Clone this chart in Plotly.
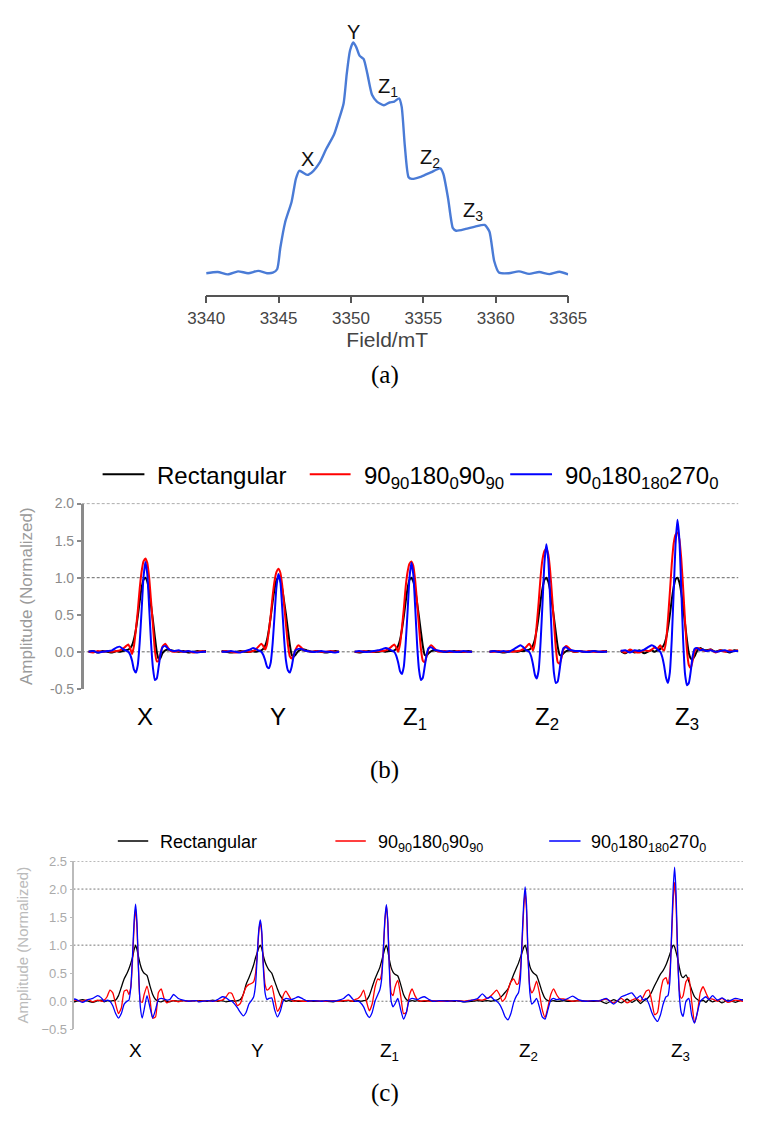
import plotly.graph_objects as go

W, H = 762, 1127
SANS = "Liberation Sans, Arial, sans-serif"
SERIF = "Liberation Serif, DejaVu Serif, serif"

# ---------------- Panel (a): field-swept spectrum ----------------
FIELD_A = [3340.0, 3340.8, 3341.5, 3342.2, 3342.9, 3343.6, 3344.2, 3344.6, 3344.9,
           3345.12, 3345.45, 3345.9, 3346.2, 3346.43, 3346.98, 3347.41, 3347.85,
           3348.28, 3348.83, 3349.16, 3349.49, 3349.71, 3349.93, 3350.15, 3350.37,
           3350.59, 3350.87, 3351.13, 3351.46, 3351.79, 3352.27, 3352.66, 3352.99,
           3353.32, 3353.5, 3353.72, 3353.98, 3354.2, 3354.86, 3355.51, 3356.17,
           3356.38, 3356.71, 3357.04, 3357.26, 3357.92, 3358.57, 3359.23, 3359.56,
           3359.89, 3360.22, 3360.9, 3361.6, 3362.3, 3363.0, 3363.7, 3364.4, 3365.0]
SIGNAL_A = [0.0, 0.005, -0.005, 0.008, 0.0, 0.01, 0.0, 0.002, 0.017,
            0.11, 0.22, 0.31, 0.41, 0.444, 0.426, 0.444, 0.48,
            0.537, 0.601, 0.665, 0.736, 0.865, 0.964, 1.0, 0.979,
            0.943, 0.929, 0.865, 0.772, 0.744, 0.728, 0.74, 0.744,
            0.758, 0.722, 0.551, 0.416, 0.409, 0.419, 0.437, 0.454,
            0.43, 0.323, 0.195, 0.184, 0.192, 0.202, 0.209, 0.181,
            0.053, 0.003, 0.0, 0.008, -0.003, 0.005, -0.004, 0.006, -0.005]
TICKS_A = [3340, 3345, 3350, 3355, 3360, 3365]

SEGMENTS = ["X", "Y", "Z<sub>1</sub>", "Z<sub>2</sub>", "Z<sub>3</sub>"]
SERIES = ["Rectangular",
          "90<sub>90</sub>180<sub>0</sub>90<sub>90</sub>",
          "90<sub>0</sub>180<sub>180</sub>270<sub>0</sub>"]

# ---------------- Panel (b): echoes, time offset from echo top ----------------
T_B = [-60, -55, -50, -45, -40, -35, -30,
       -27, -24, -21, -18, -16, -14, -12, -10, -8, -6, -4, -2,
       0,
       2, 4, 6, 8, 10, 12, 14, 16, 18, 21, 24, 27,
       30, 35, 40, 45, 50, 55, 60, 64]

B_X_RECT = [0.00, 0.01, -0.01, 0.01, 0.00, -0.01, 0.01,
            0.00, 0.01, 0.02, 0.03, 0.05, 0.09, 0.17, 0.30, 0.48, 0.68, 0.86, 0.97,
            1.00,
            0.95, 0.82, 0.62, 0.42, 0.20, 0.00, -0.10, -0.08, -0.02, 0.02, 0.03, 0.02,
            0.01, 0.00, 0.01, -0.01, 0.00, 0.01, 0.00, 0.01]
B_X_P1 = [0.00, -0.01, 0.01, 0.00, 0.01, 0.00, 0.01,
          0.02, 0.04, 0.07, 0.10, 0.05, -0.03, 0.08, 0.30, 0.55, 0.85, 1.08, 1.22,
          1.26,
          1.20, 1.00, 0.68, 0.35, 0.02, -0.13, -0.12, -0.02, 0.07, 0.11, 0.05, 0.01,
          0.00, 0.01, 0.00, 0.01, -0.01, 0.00, 0.01, 0.00]
B_X_P2 = [0.00, 0.01, -0.01, 0.00, 0.01, 0.02, 0.06,
          0.07, 0.04, 0.02, 0.00, -0.04, -0.12, -0.24, -0.28, -0.18, 0.12, 0.55, 1.00,
          1.21,
          1.05, 0.60, 0.12, -0.22, -0.38, -0.36, -0.20, -0.03, 0.06, 0.08, 0.04, 0.02,
          0.01, 0.02, 0.00, 0.01, 0.00, -0.01, 0.00, 0.00]

B_Y_RECT = [0.01, 0.00, -0.01, 0.00, 0.01, 0.00, 0.00,
            0.01, 0.00, 0.01, 0.02, 0.04, 0.08, 0.16, 0.30, 0.48, 0.68, 0.85, 0.97,
            1.00,
            0.96, 0.85, 0.68, 0.50, 0.30, 0.10, -0.04, -0.07, -0.04, 0.01, 0.03, 0.03,
            0.02, 0.00, 0.01, 0.00, -0.01, 0.00, 0.01, 0.00]
B_Y_P1 = [0.00, 0.01, 0.00, -0.01, 0.00, 0.01, 0.00,
          0.01, 0.03, 0.07, 0.11, 0.08, 0.03, 0.10, 0.28, 0.50, 0.76, 0.96, 1.08,
          1.12,
          1.07, 0.90, 0.64, 0.36, 0.10, -0.06, -0.09, -0.05, 0.03, 0.09, 0.06, 0.02,
          0.01, 0.00, 0.01, 0.00, 0.00, 0.01, 0.00, 0.00]
B_Y_P2 = [0.00, 0.00, 0.01, 0.00, -0.01, 0.01, 0.03,
          0.05, 0.04, 0.02, 0.00, -0.04, -0.11, -0.20, -0.22, -0.14, 0.12, 0.50, 0.88,
          1.05,
          0.95, 0.60, 0.18, -0.12, -0.25, -0.28, -0.20, -0.06, 0.02, 0.04, 0.04, 0.02,
          0.01, 0.00, 0.00, 0.01, 0.00, 0.00, -0.01, 0.00]

B_Z1_RECT = [0.00, -0.01, 0.00, 0.01, 0.00, 0.00, 0.01,
             0.00, 0.01, 0.01, 0.02, 0.04, 0.08, 0.16, 0.30, 0.48, 0.68, 0.86, 0.97,
             1.00,
             0.95, 0.84, 0.66, 0.47, 0.27, 0.08, -0.04, -0.05, -0.02, 0.01, 0.02, 0.01,
             0.01, 0.00, 0.00, 0.01, 0.00, 0.00, 0.01, 0.00]
B_Z1_P1 = [0.00, 0.00, 0.01, 0.00, 0.00, 0.01, 0.01,
           0.02, 0.04, 0.07, 0.10, 0.06, 0.00, 0.10, 0.32, 0.58, 0.88, 1.08, 1.19,
           1.22,
           1.16, 0.96, 0.66, 0.34, 0.04, -0.12, -0.14, -0.06, 0.04, 0.09, 0.05, 0.01,
           0.00, 0.01, 0.00, 0.00, 0.01, 0.00, 0.00, 0.00]
B_Z1_P2 = [0.00, 0.01, 0.00, 0.00, 0.01, 0.02, 0.04,
           0.05, 0.04, 0.02, 0.00, -0.05, -0.14, -0.26, -0.30, -0.20, 0.12, 0.55, 1.00,
           1.20,
           1.04, 0.60, 0.10, -0.24, -0.38, -0.35, -0.20, -0.04, 0.05, 0.06, 0.03, 0.02,
           0.01, 0.00, 0.01, 0.00, 0.00, 0.01, 0.00, 0.00]

B_Z2_RECT = [0.00, 0.01, 0.00, -0.01, 0.00, 0.01, 0.00,
             0.01, 0.01, 0.02, 0.03, 0.05, 0.09, 0.17, 0.31, 0.49, 0.69, 0.86, 0.97,
             1.00,
             0.95, 0.83, 0.65, 0.46, 0.26, 0.07, -0.04, -0.05, -0.02, 0.01, 0.02, 0.01,
             0.00, 0.01, 0.00, 0.00, 0.01, 0.00, 0.00, 0.01]
B_Z2_P1 = [0.00, 0.00, 0.01, 0.00, 0.01, 0.00, 0.01,
           0.02, 0.04, 0.07, 0.11, 0.07, 0.02, 0.12, 0.38, 0.68, 1.02, 1.25, 1.36,
           1.39,
           1.32, 1.10, 0.76, 0.40, 0.05, -0.14, -0.16, -0.08, 0.03, 0.08, 0.05, 0.01,
           0.00, 0.01, 0.00, 0.01, 0.00, 0.00, 0.01, 0.00]
B_Z2_P2 = [0.00, 0.01, 0.00, 0.01, 0.00, 0.03, 0.07,
           0.09, 0.06, 0.02, 0.00, -0.06, -0.17, -0.31, -0.36, -0.24, 0.14, 0.66, 1.20,
           1.45,
           1.25, 0.72, 0.12, -0.28, -0.42, -0.40, -0.24, -0.05, 0.05, 0.06, 0.03, 0.02,
           0.01, 0.01, 0.00, 0.00, 0.01, 0.00, 0.00, 0.00]

B_Z3_RECT = [0.01, -0.02, 0.02, -0.01, 0.02, -0.02, 0.01,
             0.02, 0.00, 0.02, 0.04, 0.06, 0.10, 0.18, 0.32, 0.50, 0.70, 0.87, 0.98,
             1.00,
             0.94, 0.80, 0.60, 0.38, 0.16, -0.02, -0.09, -0.10, -0.06, 0.02, 0.05, 0.03,
             0.02, 0.03, 0.00, 0.02, 0.01, -0.01, 0.02, 0.01]
B_Z3_P1 = [0.02, -0.01, 0.03, 0.00, -0.01, 0.02, 0.01,
           0.03, 0.06, 0.04, 0.09, 0.04, 0.02, 0.14, 0.44, 0.80, 1.18, 1.46, 1.58,
           1.61,
           1.52, 1.26, 0.86, 0.42, 0.02, -0.18, -0.22, -0.12, 0.00, 0.05, 0.04, 0.02,
           0.01, 0.03, -0.01, 0.02, 0.00, 0.02, 0.01, 0.02]
B_Z3_P2 = [0.01, 0.02, -0.01, 0.02, 0.01, 0.03, 0.07,
           0.09, 0.07, 0.03, 0.00, -0.07, -0.19, -0.35, -0.42, -0.28, 0.16, 0.80, 1.45,
           1.78,
           1.52, 0.86, 0.16, -0.30, -0.45, -0.42, -0.26, -0.06, 0.04, 0.05, 0.02, 0.03,
           0.01, 0.02, 0.00, 0.01, 0.02, 0.00, 0.01, 0.01]

TICKVALS_B = [-0.5, 0.0, 0.5, 1.0, 1.5, 2.0]
TICKTEXT_B = ["-0.5", "0.0", "0.5", "1.0", "1.5", "2.0"]
GRID_B = [0.0, 1.0, 2.0]

# ---------------- Panel (c): echoes, time offset from echo top ----------------
T_C = [-80, -72, -64, -56, -50, -45, -40, -36, -33, -30,
       -27, -24, -21, -18, -15, -12, -9, -7, -5, -3,
       -1.5, 0, 1.5, 3, 5, 7, 9, 12, 15, 18,
       21, 24, 27, 30, 33, 36, 40, 45, 50, 56,
       64, 72, 80]

C_X_RECT = [0.00, 0.02, -0.01, 0.03, 0.00, -0.02, 0.01, 0.02, -0.01, 0.01,
            0.00, 0.01, 0.02, 0.10, 0.25, 0.40, 0.50, 0.58, 0.68, 0.80,
            0.92, 1.00, 0.92, 0.80, 0.65, 0.55, 0.50, 0.46, 0.28, 0.12,
            0.03, 0.00, -0.01, 0.01, 0.00, -0.01, 0.01, 0.00, 0.01, 0.00,
            0.01, 0.00, 0.00]
C_X_P1 = [0.01, -0.01, 0.02, 0.00, 0.03, -0.01, 0.02, 0.00, 0.02, 0.08,
          0.20, 0.15, -0.05, -0.22, -0.12, 0.18, 0.20, 0.12, 0.25, 0.80,
          1.35, 1.66, 1.30, 0.60, 0.00, -0.02, 0.12, 0.27, 0.05, -0.30,
          -0.28, 0.15, 0.22, 0.05, -0.03, 0.00, 0.01, -0.01, 0.01, 0.00,
          0.01, 0.00, 0.00]
C_X_P2 = [0.02, -0.03, 0.04, -0.02, 0.03, 0.05, 0.10, 0.06, 0.00, 0.02,
          0.00, -0.08, -0.22, -0.30, -0.22, -0.05, 0.00, 0.02, 0.25, 0.90,
          1.45, 1.73, 1.40, 0.60, -0.10, -0.30, -0.15, 0.10, -0.10, -0.30,
          -0.15, 0.03, 0.05, 0.04, 0.02, 0.03, 0.12, 0.05, 0.02, 0.00,
          0.01, -0.01, 0.00]

C_Y_RECT = [0.00, -0.01, 0.01, 0.00, 0.02, 0.00, 0.01, -0.01, 0.00, 0.01,
            0.00, 0.01, 0.03, 0.12, 0.30, 0.42, 0.55, 0.65, 0.78, 0.88,
            0.96, 1.00, 0.94, 0.82, 0.70, 0.62, 0.56, 0.50, 0.36, 0.22,
            0.10, 0.03, 0.00, 0.01, 0.00, 0.01, 0.00, 0.00, 0.01, 0.00,
            0.00, 0.01, 0.00]
C_Y_P1 = [0.00, 0.01, 0.00, 0.01, 0.00, 0.01, 0.02, 0.08, 0.15, 0.14,
          0.02, -0.08, -0.04, 0.12, 0.25, 0.30, 0.32, 0.35, 0.50, 0.90,
          1.25, 1.42, 1.20, 0.70, 0.30, 0.20, 0.22, 0.28, 0.05, -0.18,
          -0.10, 0.10, 0.18, 0.10, 0.02, 0.00, 0.01, 0.00, 0.00, 0.01,
          0.00, 0.00, 0.01]
C_Y_P2 = [0.00, 0.01, -0.01, 0.01, 0.00, 0.03, 0.08, 0.06, 0.02, 0.00,
          -0.05, -0.12, -0.20, -0.26, -0.20, -0.05, 0.02, 0.08, 0.30, 0.90,
          1.30, 1.45, 1.25, 0.65, 0.15, 0.03, 0.05, 0.06, -0.15, -0.28,
          -0.18, 0.00, 0.05, 0.04, 0.03, 0.05, 0.08, 0.04, 0.00, 0.01,
          0.00, 0.01, 0.00]

C_Z1_RECT = [0.00, 0.01, 0.00, -0.01, 0.01, 0.00, 0.01, 0.00, 0.00, 0.01,
             0.00, 0.01, 0.02, 0.10, 0.25, 0.40, 0.52, 0.60, 0.72, 0.85,
             0.95, 1.00, 0.90, 0.75, 0.60, 0.52, 0.48, 0.45, 0.30, 0.12,
             0.03, 0.00, 0.01, 0.00, 0.01, 0.00, 0.00, 0.01, 0.00, 0.00,
             0.01, 0.00, 0.00]
C_Z1_P1 = [0.00, 0.01, 0.00, 0.01, 0.00, 0.01, 0.02, 0.00, 0.03, 0.05,
           0.10, 0.20, 0.00, -0.17, -0.05, 0.25, 0.40, 0.38, 0.50, 1.00,
           1.45, 1.70, 1.40, 0.70, 0.15, 0.10, 0.25, 0.37, 0.10, -0.22,
           -0.20, 0.10, 0.22, 0.10, 0.02, 0.00, 0.01, 0.00, 0.01, 0.00,
           0.00, 0.01, 0.00]
C_Z1_P2 = [0.00, -0.01, 0.01, 0.00, 0.02, 0.05, 0.12, 0.05, 0.00, 0.00,
           -0.03, -0.10, -0.22, -0.29, -0.20, 0.00, 0.12, 0.20, 0.40, 1.00,
           1.50, 1.72, 1.40, 0.60, 0.00, -0.10, -0.05, 0.05, -0.15, -0.32,
           -0.20, 0.02, 0.05, 0.04, 0.03, 0.06, 0.08, 0.03, 0.00, 0.01,
           0.00, 0.01, 0.00]

C_Z2_RECT = [0.00, 0.01, -0.01, 0.00, 0.01, 0.00, 0.01, 0.00, 0.01, 0.02,
             0.05, 0.10, 0.16, 0.22, 0.35, 0.48, 0.60, 0.68, 0.78, 0.88,
             0.96, 1.00, 0.92, 0.78, 0.62, 0.54, 0.50, 0.46, 0.32, 0.16,
             0.05, 0.01, 0.00, 0.01, 0.00, 0.00, 0.01, 0.00, 0.00, 0.01,
             0.00, 0.00, 0.01]
C_Z2_P1 = [0.00, 0.01, 0.00, 0.02, 0.03, 0.02, 0.05, 0.10, 0.15, 0.20,
           0.12, 0.00, 0.05, 0.20, 0.35, 0.40, 0.30, 0.32, 0.55, 1.10,
           1.65, 1.95, 1.60, 0.80, 0.25, 0.15, 0.20, 0.36, 0.15, -0.15,
           -0.29, -0.10, 0.12, 0.22, 0.12, 0.05, 0.04, 0.02, 0.00, 0.01,
           0.00, 0.01, 0.00]
C_Z2_P2 = [0.00, 0.01, -0.01, 0.02, 0.05, 0.13, 0.05, 0.08, 0.03, 0.00,
           -0.05, -0.15, -0.28, -0.33, -0.22, -0.02, 0.10, 0.15, 0.40, 1.20,
           1.75, 2.04, 1.70, 0.85, 0.15, -0.05, -0.02, 0.05, -0.10, -0.28,
           -0.32, -0.15, 0.02, 0.05, 0.03, 0.04, 0.02, 0.05, 0.09, 0.03,
           0.00, 0.01, 0.00]

C_Z3_RECT = [0.02, -0.04, 0.03, -0.03, 0.04, -0.02, 0.03, -0.04, 0.00, 0.03,
             0.08, 0.17, 0.28, 0.38, 0.48, 0.55, 0.65, 0.74, 0.84, 0.94,
             1.00, 0.97, 0.88, 0.78, 0.60, 0.46, 0.42, 0.47, 0.35, 0.20,
             0.08, 0.03, 0.00, 0.02, -0.02, 0.03, -0.01, 0.02, -0.03, 0.02,
             -0.02, 0.03, 0.00]
C_Z3_P1 = [0.00, 0.04, -0.03, 0.05, -0.03, 0.02, 0.05, 0.00, 0.08, 0.18,
           0.20, 0.00, -0.24, -0.20, 0.15, 0.38, 0.42, 0.30, 0.50, 1.20,
           1.80, 2.12, 1.75, 0.90, 0.20, 0.05, 0.10, 0.35, 0.42, 0.00,
           -0.38, -0.20, 0.15, 0.26, 0.15, 0.05, 0.04, 0.00, 0.05, -0.02,
           0.02, 0.00, 0.01]
C_Z3_P2 = [0.00, 0.05, -0.05, 0.08, 0.12, 0.15, 0.05, 0.10, 0.02, 0.05,
           -0.05, -0.20, -0.30, -0.36, -0.25, -0.05, 0.08, 0.10, 0.35, 1.30,
           2.00, 2.39, 1.95, 1.00, 0.10, -0.20, -0.27, 0.00, 0.05, -0.25,
           -0.39, -0.20, 0.00, 0.05, 0.08, 0.03, 0.10, 0.02, 0.06, 0.00,
           0.05, 0.02, 0.00]

TICKVALS_C = [-0.5, 0.0, 0.5, 1.0, 1.5, 2.0, 2.5]
TICKTEXT_C = ["\u22120.5", "0.0", "0.5", "1.0", "1.5", "2.0", "2.5"]
GRID_C = [0.0, 1.0, 2.0, 2.5]

B_DATA = [[B_X_RECT, B_X_P1, B_X_P2], [B_Y_RECT, B_Y_P1, B_Y_P2],
          [B_Z1_RECT, B_Z1_P1, B_Z1_P2], [B_Z2_RECT, B_Z2_P1, B_Z2_P2],
          [B_Z3_RECT, B_Z3_P1, B_Z3_P2]]
C_DATA = [[C_X_RECT, C_X_P1, C_X_P2], [C_Y_RECT, C_Y_P1, C_Y_P2],
          [C_Z1_RECT, C_Z1_P1, C_Z1_P2], [C_Z2_RECT, C_Z2_P1, C_Z2_P2],
          [C_Z3_RECT, C_Z3_P1, C_Z3_P2]]

# ---------------- layout helpers (pixel -> paper) ----------------
def px(x):
    return x / W

def py(y):
    return 1 - y / H

COLORS = ["#000000", "#ff0000", "#0000ff"]

fig = go.Figure()

# Panel (a)
fig.add_trace(go.Scatter(x=FIELD_A, y=SIGNAL_A, mode="lines", xaxis="x", yaxis="y",
                         line=dict(color="#4a7bd6", width=2.4, shape="spline", smoothing=0.6),
                         showlegend=False, hoverinfo="skip"))

layout = dict(
    width=W, height=H, autosize=False, margin=dict(l=0, r=0, t=0, b=0, pad=0),
    paper_bgcolor="white", plot_bgcolor="white", showlegend=False,
    font=dict(family=SANS, color="#000"),
)
layout["xaxis"] = dict(domain=[px(197), px(578)], range=[3340, 3365], anchor="y",
                       showline=True, linecolor="#555", linewidth=1.5,
                       ticks="outside", ticklen=7, tickwidth=1.5, tickcolor="#555",
                       tickvals=TICKS_A, tickfont=dict(size=17, color="#444"),
                       showgrid=False, zeroline=False,
                       title=dict(text="Field/mT", font=dict(size=21, color="#444"), standoff=4))
layout["yaxis"] = dict(domain=[py(290.7), 1.0], range=[-0.0927, 1.1496], visible=False, anchor="x")

annotations = []
shapes = []

# panel (a) peak labels (data coordinates)
A_LABEL_POS = [(3347.02, 0.55, "center"), (3350.15, 1.10, "center"),
               (3351.70, 0.87, "left"), (3354.62, 0.56, "left"), (3357.60, 0.33, "left")]
for txt, (lx, ly, anc) in zip(SEGMENTS, A_LABEL_POS):
    annotations.append(dict(x=lx, y=ly, xref="x", yref="y", text=txt, showarrow=False,
                            xanchor=anc, yanchor="top", font=dict(size=20, color="#111")))

# Panel (b)
B_DOMAINS = [(73, 197), (213, 337), (353, 477), (495, 619), (633, 757)]
for k, (d0, d1) in enumerate(B_DOMAINS):
    ax = k + 2
    layout[f"xaxis{ax}"] = dict(domain=[px(d0), px(d1)], range=[-60, 64], anchor="y2", visible=False)
    for s in range(3):
        fig.add_trace(go.Scatter(x=T_B, y=B_DATA[k][s], mode="lines", xaxis=f"x{ax}", yaxis="y2",
                                 line=dict(color=COLORS[s], width=2, shape="spline", smoothing=0.5),
                                 showlegend=False, hoverinfo="skip", name=SERIES[s]))
layout["yaxis2"] = dict(domain=[py(690.7), py(502.7)], range=[-0.5, 2.0], anchor="free", position=px(66),
                        showline=True, linecolor="#8a8a8a", linewidth=2.5,
                        ticks="outside", ticklen=4, tickwidth=1.5, tickcolor="#8a8a8a",
                        tickvals=TICKVALS_B, ticktext=TICKTEXT_B, tickfont=dict(size=14, color="#8a8a8a"),
                        showgrid=False, zeroline=False,
                        title=dict(text="Amplitude (Normalized)", font=dict(size=17, color="#9a9a9a"), standoff=12))
for g in GRID_B:
    shapes.append(dict(type="line", xref="paper", yref="y2", x0=px(66), x1=px(757), y0=g, y1=g,
                       line=dict(color="#666", width=1, dash="3px,2px"), layer="below"))

B_LABEL_X = [(0, "center"), (0, "center"), (-10.8, "left"), (-13.5, "left"), (-4.6, "left")]
for k, txt in enumerate(SEGMENTS):
    lx, anc = B_LABEL_X[k]
    annotations.append(dict(x=lx, y=py(702.5), xref=f"x{k + 2}", yref="paper", text=txt, showarrow=False,
                            xanchor=anc, yanchor="top", font=dict(size=24, color="#000")))

# Panel (c)
C_BOUNDS = [57.3, 188, 320, 460, 611, 762]
C_PEAKS = [122.7, 254, 386.7, 532.7, 690]
for k in range(5):
    ax = k + 7
    d0, d1 = C_BOUNDS[k], C_BOUNDS[k + 1]
    layout[f"xaxis{ax}"] = dict(domain=[px(d0), px(d1)], range=[d0 - C_PEAKS[k], d1 - C_PEAKS[k]],
                                anchor="y3", visible=False)
    for s in range(3):
        fig.add_trace(go.Scatter(x=T_C, y=C_DATA[k][s], mode="lines", xaxis=f"x{ax}", yaxis="y3",
                                 line=dict(color=COLORS[s], width=1.3, shape="spline", smoothing=0.5),
                                 showlegend=False, hoverinfo="skip", name=SERIES[s]))
layout["yaxis3"] = dict(domain=[py(1036), py(865.3)], range=[-0.5, 2.5], anchor="free", position=px(57.3),
                        showline=True, linecolor="#bbbbbb", linewidth=1.5,
                        ticks="outside", ticklen=3, tickwidth=1, tickcolor="#bbbbbb",
                        tickvals=TICKVALS_C, ticktext=TICKTEXT_C, tickfont=dict(size=13, color="#aaaaaa"),
                        showgrid=False, zeroline=False,
                        title=dict(text="Amplitude (Normalized)", font=dict(size=15, color="#bbbbbb"), standoff=8))
for g in GRID_C:
    shapes.append(dict(type="line", xref="paper", yref="y3", x0=px(57.3), x1=1.0, y0=g, y1=g,
                       line=dict(color="#777", width=1, dash="2px,2px"), layer="below"))

C_LABEL_X = [(0, "center"), (-2.8, "center"), (-8.9, "left"), (-8.7, "left"), (-5.8, "left")]
for k, txt in enumerate(SEGMENTS):
    lx, anc = C_LABEL_X[k]
    annotations.append(dict(x=lx, y=py(1045), xref=f"x{k + 7}", yref="paper", text=txt, showarrow=False,
                            xanchor=anc, yanchor="top", font=dict(size=19, color="#000")))

# Legends (manual, per panel)
LEG_B_LINES = [(88, 132), (306, 349), (517, 561)]
LEG_B_TEXT_X = [143, 361, 573]
for s in range(3):
    x0, x1 = LEG_B_LINES[s]
    shapes.append(dict(type="line", xref="paper", yref="paper", x0=px(x0), x1=px(x1), y0=py(473), y1=py(473),
                       line=dict(color=COLORS[s], width=2)))
    annotations.append(dict(x=px(LEG_B_TEXT_X[s]), y=py(459), xref="paper", yref="paper", text=SERIES[s],
                            showarrow=False, xanchor="left", yanchor="top", font=dict(size=24, color="#000")))

LEG_C_LINES = [(104, 136), (333, 365), (558, 591)]
LEG_C_TEXT_X = [146, 376, 600]
for s in range(3):
    x0, x1 = LEG_C_LINES[s]
    shapes.append(dict(type="line", xref="paper", yref="paper", x0=px(x0), x1=px(x1), y0=py(845), y1=py(845),
                       line=dict(color=COLORS[s], width=1.5)))
    annotations.append(dict(x=px(LEG_C_TEXT_X[s]), y=py(834), xref="paper", yref="paper", text=SERIES[s],
                            showarrow=False, xanchor="left", yanchor="top", font=dict(size=18, color="#000")))

# Captions
for cap, yc in [("(a)", 372), ("(b)", 773), ("(c)", 1101)]:
    annotations.append(dict(x=px(385), y=py(yc), xref="paper", yref="paper", text=cap, showarrow=False,
                            xanchor="center", yanchor="middle", font=dict(size=25, family=SERIF, color="#000")))

layout["annotations"] = annotations
layout["shapes"] = shapes
fig.update_layout(**layout)
fig.write_html("out.html")
